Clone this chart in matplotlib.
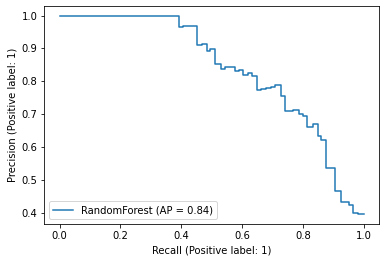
import matplotlib
matplotlib.use("Agg")
import matplotlib.pyplot as plt

# Recall (increasing) and precision level of the step ending at each recall
recall = [0.0, 0.391, 0.406, 0.453, 0.467, 0.483, 0.495, 0.512, 0.529, 0.543,
          0.575, 0.589, 0.604, 0.619, 0.633, 0.650, 0.663, 0.679, 0.693, 0.709,
          0.726, 0.739, 0.768, 0.785, 0.799, 0.813, 0.831, 0.848, 0.859, 0.875,
          0.905, 0.923, 0.951, 0.964, 0.981, 1.0]
precision = [1.0, 1.0, 0.964, 0.967, 0.910, 0.915, 0.891, 0.897, 0.853, 0.838,
             0.845, 0.830, 0.835, 0.820, 0.826, 0.815, 0.774, 0.777, 0.780, 0.784,
             0.790, 0.756, 0.709, 0.713, 0.702, 0.695, 0.662, 0.670, 0.634, 0.621,
             0.537, 0.465, 0.432, 0.423, 0.400, 0.395]
label = "RandomForest (AP = 0.84)"

fig = plt.figure(figsize=(386/72, 262/72), dpi=72)
ax = fig.add_axes([44.3/386, (262-224.3)/262, 335/386, 218.6/262])
ax.plot(recall, precision, drawstyle="steps-pre", label=label)
ax.set_xlabel("Recall (Positive label: 1)")
ax.set_ylabel("Precision (Positive label: 1)")
ax.legend(loc="lower left")
fig.savefig("out.png", dpi=72)
